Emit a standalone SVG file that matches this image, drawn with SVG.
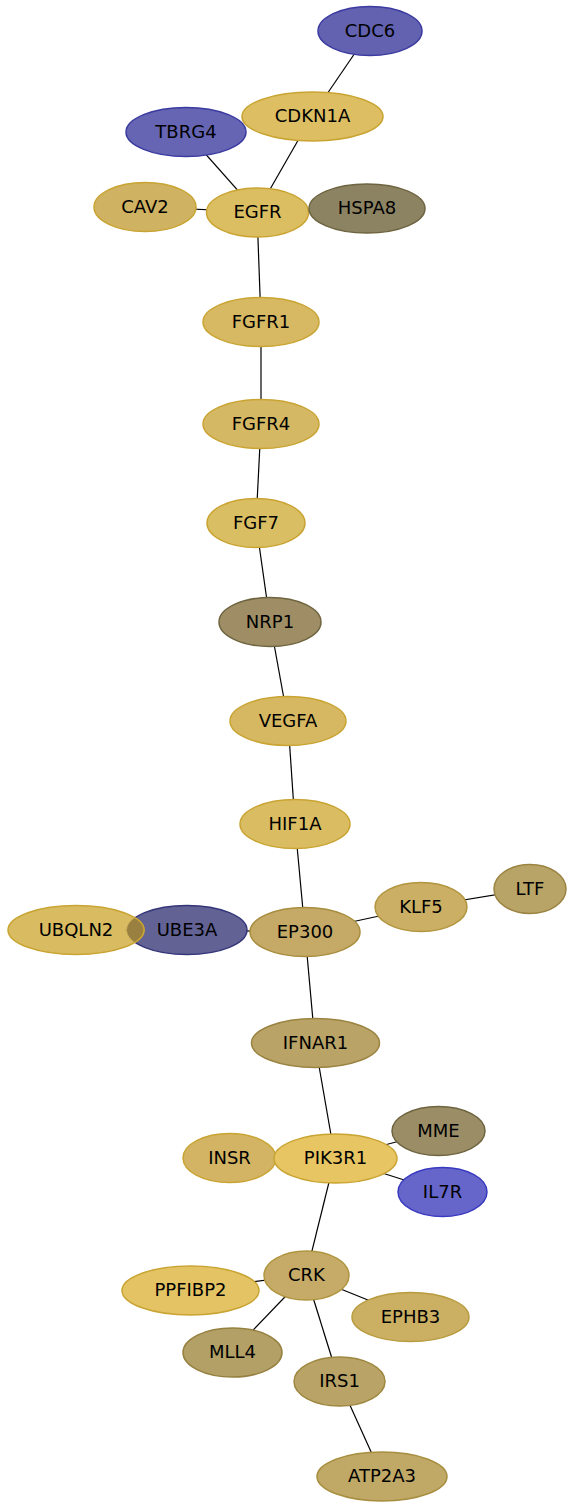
<svg xmlns="http://www.w3.org/2000/svg" width="574" height="1508" viewBox="0 0 574 1508">
<style>
.e{stroke:#000;stroke-width:1.2;fill:none}
.u{fill:#fff;stroke:none}
.n{stroke-width:1.5;fill-opacity:0.92}
.y{stroke:#c9a432}
.b{stroke:#3a3aa0}
.d{stroke:#6e6440}
text{font-family:"DejaVu Sans","Liberation Sans",sans-serif;font-size:18px;fill:#000;text-anchor:middle}
</style>
<defs>
<clipPath id="ubeClip"><ellipse cx="187" cy="930" rx="60" ry="24.5"/></clipPath>
</defs>
<rect width="574" height="1508" fill="#fff"/>
<g id="edges">
<line class="e" x1="370" y1="31" x2="312" y2="116"/>
<line class="e" x1="312" y1="116" x2="257" y2="212"/>
<line class="e" x1="186" y1="132" x2="257" y2="212"/>
<line class="e" x1="145" y1="207" x2="257" y2="212"/>
<line class="e" x1="257" y1="212" x2="367" y2="208"/>
<line class="e" x1="257" y1="212" x2="261" y2="322"/>
<line class="e" x1="261" y1="322" x2="261" y2="424"/>
<line class="e" x1="261" y1="424" x2="256" y2="523"/>
<line class="e" x1="256" y1="523" x2="270" y2="622"/>
<line class="e" x1="270" y1="622" x2="288" y2="721"/>
<line class="e" x1="288" y1="721" x2="295" y2="824"/>
<line class="e" x1="295" y1="824" x2="305" y2="932"/>
<line class="e" x1="305" y1="932" x2="187" y2="930"/>
<line class="e" x1="125" y1="930" x2="129" y2="930"/>
<line class="e" x1="305" y1="932" x2="421" y2="907"/>
<line class="e" x1="421" y1="907" x2="530" y2="889"/>
<line class="e" x1="305" y1="932" x2="315" y2="1043"/>
<line class="e" x1="315" y1="1043" x2="335" y2="1158"/>
<line class="e" x1="335" y1="1158" x2="438" y2="1131"/>
<line class="e" x1="335" y1="1158" x2="230" y2="1158"/>
<line class="e" x1="335" y1="1158" x2="442" y2="1192"/>
<line class="e" x1="335" y1="1158" x2="306" y2="1275"/>
<line class="e" x1="306" y1="1275" x2="190" y2="1290"/>
<line class="e" x1="306" y1="1275" x2="410" y2="1317"/>
<line class="e" x1="306" y1="1275" x2="232" y2="1352"/>
<line class="e" x1="306" y1="1275" x2="339" y2="1381"/>
<line class="e" x1="339" y1="1381" x2="382" y2="1476"/>
</g>
<g id="CDC6"><ellipse class="u" cx="370" cy="31" rx="52" ry="24.5"/><ellipse class="n b" cx="370" cy="31" rx="52" ry="24.5" fill="#5555aa"/><text x="370" y="37">CDC6</text></g>
<g id="CDKN1A"><ellipse class="u" cx="312.5" cy="116.5" rx="70.5" ry="24.5"/><ellipse class="n y" cx="312.5" cy="116.5" rx="70.5" ry="24.5" fill="#dab955"/><text x="312.5" y="122">CDKN1A</text></g>
<g id="TBRG4"><ellipse class="u" cx="186" cy="132" rx="60" ry="24.5"/><ellipse class="n b" cx="186" cy="132" rx="60" ry="24.5" fill="#5858ad"/><text x="186" y="137.5">TBRG4</text></g>
<g id="CAV2"><ellipse class="u" cx="145" cy="207" rx="51" ry="24.5"/><ellipse class="n y" cx="145" cy="207" rx="51" ry="24.5" fill="#cbab55"/><text x="145" y="212.5">CAV2</text></g>
<g id="EGFR"><ellipse class="u" cx="257.5" cy="212.5" rx="51" ry="24.5"/><ellipse class="n y" cx="257.5" cy="212.5" rx="51" ry="24.5" fill="#d9b955"/><text x="257.5" y="218">EGFR</text></g>
<g id="HSPA8"><ellipse class="u" cx="367" cy="208.5" rx="58" ry="24.5"/><ellipse class="n d" cx="367" cy="208.5" rx="58" ry="24.5" fill="#827856"/><text x="367" y="214">HSPA8</text></g>
<g id="FGFR1"><ellipse class="u" cx="261" cy="322" rx="58" ry="24.5"/><ellipse class="n y" cx="261" cy="322" rx="58" ry="24.5" fill="#d3b355"/><text x="261" y="327.5">FGFR1</text></g>
<g id="FGFR4"><ellipse class="u" cx="261" cy="424" rx="58" ry="24.5"/><ellipse class="n y" cx="261" cy="424" rx="58" ry="24.5" fill="#d1b256"/><text x="261" y="429.5">FGFR4</text></g>
<g id="FGF7"><ellipse class="u" cx="256" cy="523" rx="49" ry="24.5"/><ellipse class="n y" cx="256" cy="523" rx="49" ry="24.5" fill="#d7b856"/><text x="256" y="528.5">FGF7</text></g>
<g id="NRP1"><ellipse class="u" cx="270" cy="622" rx="51" ry="24.5"/><ellipse class="n d" cx="270" cy="622" rx="51" ry="24.5" fill="#978458"/><text x="270" y="627.5">NRP1</text></g>
<g id="VEGFA"><ellipse class="u" cx="288" cy="721" rx="58" ry="24.5"/><ellipse class="n y" cx="288" cy="721" rx="58" ry="24.5" fill="#d4b255"/><text x="288" y="726.5">VEGFA</text></g>
<g id="HIF1A"><ellipse class="u" cx="295" cy="824" rx="55" ry="24.5"/><ellipse class="n y" cx="295" cy="824" rx="55" ry="24.5" fill="#d7b755"/><text x="295" y="829.5">HIF1A</text></g>
<g id="UBE3A"><ellipse class="u" cx="187" cy="930" rx="60" ry="24.5"/><ellipse class="n" stroke="#35357a" cx="187" cy="930" rx="60" ry="24.5" fill="#55558c"/><text x="187" y="935.5">UBE3A</text></g>
<g id="UBQLN2"><ellipse class="n y" cx="76" cy="930" rx="68" ry="24.5" fill="#d6b655" fill-opacity="1"/><ellipse cx="76" cy="930" rx="68" ry="24.5" fill="#9a8040" stroke="#c9a432" stroke-width="1.5" clip-path="url(#ubeClip)"/><text x="76" y="935.5">UBQLN2</text></g>
<g id="EP300"><ellipse class="u" cx="305" cy="932" rx="55" ry="24.5"/><ellipse class="n" stroke="#a88d3e" cx="305" cy="932" rx="55" ry="24.5" fill="#c0a259"/><text x="305" y="937.5">EP300</text></g>
<g id="KLF5"><ellipse class="u" cx="421" cy="907" rx="46" ry="24.5"/><ellipse class="n" stroke="#b2953e" cx="421" cy="907" rx="46" ry="24.5" fill="#c6a857"/><text x="421" y="912.5">KLF5</text></g>
<g id="LTF"><ellipse class="u" cx="530" cy="889" rx="36" ry="24.5"/><ellipse class="n" stroke="#9b8442" cx="530" cy="889" rx="36" ry="24.5" fill="#b39c5b"/><text x="530" y="894.5">LTF</text></g>
<g id="IFNAR1"><ellipse class="u" cx="315.5" cy="1043" rx="64" ry="24.5"/><ellipse class="n" stroke="#9b8442" cx="315.5" cy="1043" rx="64" ry="24.5" fill="#b39b59"/><text x="315.5" y="1048.5">IFNAR1</text></g>
<g id="MME"><ellipse class="u" cx="438.5" cy="1131" rx="46.5" ry="24.5"/><ellipse class="n d" cx="438.5" cy="1131" rx="46.5" ry="24.5" fill="#92845a"/><text x="438.5" y="1136.5">MME</text></g>
<g id="INSR"><ellipse class="u" cx="229.5" cy="1158" rx="46.5" ry="24.5"/><ellipse class="n y" cx="229.5" cy="1158" rx="46.5" ry="24.5" fill="#ceae57"/><text x="229.5" y="1163.5">INSR</text></g>
<g id="PIK3R1"><ellipse class="u" cx="335.5" cy="1158.5" rx="61.5" ry="24.5"/><ellipse class="n y" cx="335.5" cy="1158.5" rx="61.5" ry="24.5" fill="#e5c055"/><text x="335.5" y="1164">PIK3R1</text></g>
<g id="IL7R"><ellipse class="u" cx="442.5" cy="1192" rx="44.5" ry="24.5"/><ellipse class="n" stroke="#3a3ac0" cx="442.5" cy="1192" rx="44.5" ry="24.5" fill="#5959c5"/><text x="442.5" y="1197.5">IL7R</text></g>
<g id="CRK"><ellipse class="u" cx="306.5" cy="1275.5" rx="42.5" ry="24.5"/><ellipse class="n" stroke="#b0953f" cx="306.5" cy="1275.5" rx="42.5" ry="24.5" fill="#c1a45b"/><text x="306.5" y="1281">CRK</text></g>
<g id="PPFIBP2"><ellipse class="u" cx="190.5" cy="1290.5" rx="68.5" ry="24.5"/><ellipse class="n y" cx="190.5" cy="1290.5" rx="68.5" ry="24.5" fill="#e2be58"/><text x="190.5" y="1296">PPFIBP2</text></g>
<g id="EPHB3"><ellipse class="u" cx="410.5" cy="1317" rx="58.5" ry="24.5"/><ellipse class="n" stroke="#b89b3e" cx="410.5" cy="1317" rx="58.5" ry="24.5" fill="#c7a957"/><text x="410.5" y="1322.5">EPHB3</text></g>
<g id="MLL4"><ellipse class="u" cx="232.5" cy="1352.5" rx="49.5" ry="24.5"/><ellipse class="n" stroke="#96803f" cx="232.5" cy="1352.5" rx="49.5" ry="24.5" fill="#ad9859"/><text x="232.5" y="1358">MLL4</text></g>
<g id="IRS1"><ellipse class="u" cx="339.5" cy="1381.5" rx="45.5" ry="24.5"/><ellipse class="n" stroke="#9e8740" cx="339.5" cy="1381.5" rx="45.5" ry="24.5" fill="#b39b59"/><text x="339.5" y="1387">IRS1</text></g>
<g id="ATP2A3"><ellipse class="u" cx="382" cy="1476.5" rx="65" ry="24.5"/><ellipse class="n" stroke="#a88e3f" cx="382" cy="1476.5" rx="65" ry="24.5" fill="#bba15a"/><text x="382" y="1482">ATP2A3</text></g>
</svg>
